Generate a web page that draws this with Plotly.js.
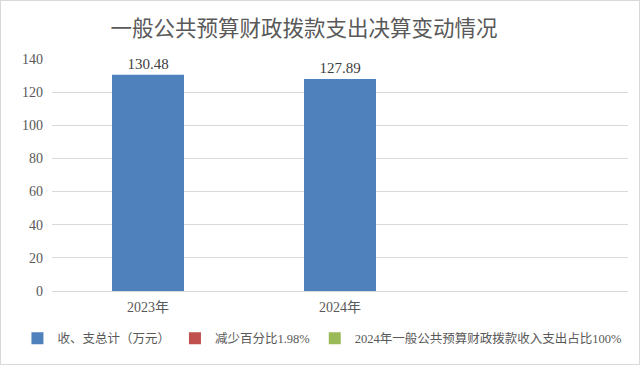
<!DOCTYPE html>
<html><head><meta charset="utf-8">
<script src="https://cdn.plot.ly/plotly-3.0.1.min.js"></script>
<style>html,body{margin:0;padding:0;background:#fff}#c{width:638px;height:363px;border:1px solid #d9d9d9}</style>
</head><body><div id="c"></div>
<script>
const categories = ["2023年", "2024年", " "];
const totals = [130.48, 127.89, null];
const labels = ["130.48", "127.89", ""];
const legendNames = ["收、支总计（万元）", "减少百分比1.98%", "2024年一般公共预算财政拨款收入支出占比100%"];
const colors = ["#4F81BD", "#C0504D", "#9BBB59"];
const yTicks = [0, 20, 40, 60, 80, 100, 120, 140];

const fontFam = '"Liberation Serif", "Noto Sans CJK SC", serif';
const data = [
  {type: 'bar', x: categories, y: totals, name: legendNames[0], marker: {color: colors[0]},
   text: labels, textposition: 'outside', cliponaxis: false,
   textfont: {family: fontFam, size: 15, color: '#404040'}, hoverinfo: 'none'},
  {type: 'bar', x: categories, y: [null, null, null], name: legendNames[1], marker: {color: colors[1]}, showlegend: true},
  {type: 'bar', x: categories, y: [null, null, null], name: legendNames[2], marker: {color: colors[2]}, showlegend: true}
];
const layout = {
  width: 638, height: 363,
  margin: {l: 51, r: 11, t: 58, b: 72},
  paper_bgcolor: '#fff', plot_bgcolor: '#fff',
  barmode: 'overlay', bargap: 0.625,
  title: {text: '一般公共预算财政拨款支出决算变动情况', x: 0.475, xanchor: 'center', y: 0.925, yanchor: 'middle',
    font: {family: '"Noto Sans CJK SC", sans-serif', size: 21.5, color: '#595959'}},
  xaxis: {type: 'category', categoryorder: 'array', categoryarray: categories, range: [-0.5, 2.5],
    showgrid: false, zeroline: false, showline: false, ticks: '', ticklabelstandoff: 6,
    tickfont: {family: fontFam, size: 14, color: '#595959'}},
  yaxis: {range: [0, 140], tickvals: yTicks, showgrid: true, gridcolor: '#d9d9d9', gridwidth: 1,
    zeroline: true, zerolinecolor: '#d9d9d9', showline: false, ticks: '', ticklabelstandoff: 8,
    tickfont: {family: fontFam, size: 14, color: '#595959'}},
  showlegend: true,
  legend: {orientation: 'h', x: -0.06, xanchor: 'left', y: -0.2, yanchor: 'middle',
    font: {family: fontFam, size: 12.5, color: '#595959'}, itemwidth: 30, tracegroupgap: 0},
};
Plotly.newPlot('c', data, layout, {displayModeBar: false, staticPlot: true});
</script></body></html>
